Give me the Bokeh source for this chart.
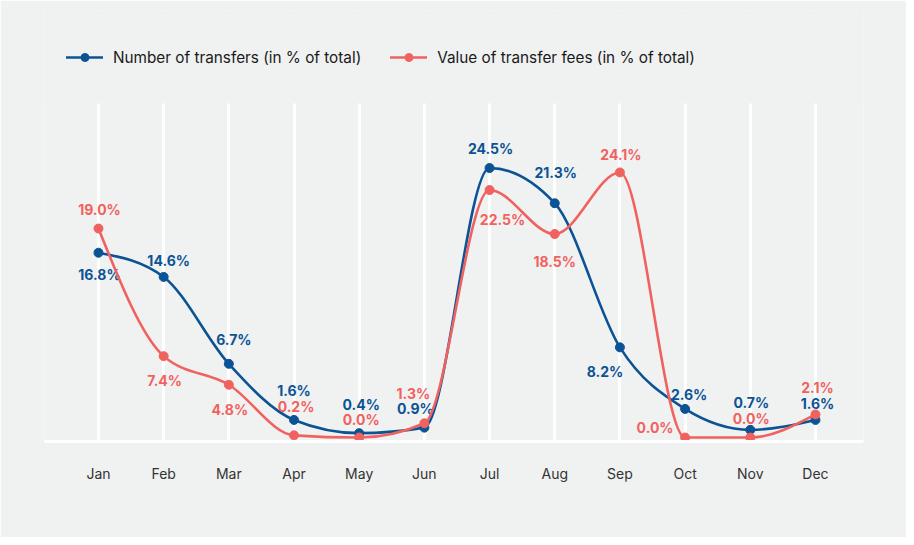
import numpy as np
from bokeh.plotting import figure
from bokeh.models import (ColumnDataSource, Range1d, FixedTicker, Legend, LegendItem, BoxAnnotation)
from bokeh.core.properties import value
from bokeh.embed import file_html
from bokeh.resources import INLINE

# ---- data ----
months = ["Jan", "Feb", "Mar", "Apr", "May", "Jun", "Jul", "Aug", "Sep", "Oct", "Nov", "Dec"]
transfers_pct = [16.8, 14.6, 6.7, 1.6, 0.4, 0.9, 24.5, 21.3, 8.2, 2.6, 0.7, 1.6]
fees_pct = [19.0, 7.4, 4.8, 0.2, 0.0, 1.3, 22.5, 18.5, 24.1, 0.0, 0.0, 2.1]

# label offsets in screen pixels (layout, not data)
transfers_dx = [1, 5, 5, 0, 2, -9, 1, 1, -15, 4, 1, 2]
transfers_dy = [22, -16, -24, -29, -29, -19, -20, -31, 24, -14, -27, -16]
fees_dx = [1, 1, 1, 2, 2, -11, 13, 0, 1, -30, 1, 2]
fees_dy = [-19, 24, 25, -29, -18, -30, 29, 27, -18, -10, -19, -27]

BLUE = "#0b5394"
RED = "#f0625f"
BG = "#f0f1f1"
FONT = "Inter"
GRID_TOP = 30.36   # where the vertical guide lines end (layout)


def monotone_bezier(xs, ys):
    """Control points of a monotone-X cubic curve (as d3.curveMonotoneX)."""
    x = np.asarray(xs, dtype=float)
    y = np.asarray(ys, dtype=float)
    n = len(x)
    h = np.diff(x)
    s = np.diff(y) / h
    t = np.zeros(n)
    for i in range(1, n - 1):
        h0, h1 = h[i - 1], h[i]
        s0, s1 = s[i - 1], s[i]
        p = (s0 * h1 + s1 * h0) / (h0 + h1)
        t[i] = (np.sign(s0) + np.sign(s1)) * min(abs(s0), abs(s1), 0.5 * abs(p))
    t[0] = (3 * (y[1] - y[0]) / h[0] - t[1]) / 2
    t[-1] = (3 * (y[-1] - y[-2]) / h[-1] - t[-2]) / 2
    d = h / 3.0
    return dict(
        x0=x[:-1], y0=y[:-1], x1=x[1:], y1=y[1:],
        cx0=x[:-1] + d, cy0=y[:-1] + d * t[:-1],
        cx1=x[1:] - d, cy1=y[1:] - d * t[1:],
    )


xi = list(range(len(months)))

p = figure(width=906, height=537, output_backend="svg", toolbar_location=None,
           x_range=Range1d(-0.828, 11.737), y_range=Range1d(-0.36, 38.82),
           y_axis_location=None,
           min_border_left=44, min_border_right=43, min_border_top=10, min_border_bottom=96)
p.background_fill_color = BG
p.border_fill_color = BG
p.outline_line_color = None

p.ygrid.visible = False
p.xgrid.grid_line_color = "white"
p.xgrid.grid_line_width = 3
# hide the guide lines above the chart area (legend zone)
p.add_layout(BoxAnnotation(bottom=GRID_TOP, fill_color=BG, fill_alpha=1.0,
                           line_color=None, level="underlay"))

p.xaxis.ticker = FixedTicker(ticks=xi)
p.xaxis.major_label_overrides = {i: m for i, m in enumerate(months)}
p.xaxis.axis_line_color = "white"
p.xaxis.axis_line_width = 3
p.xaxis.major_tick_line_color = None
p.xaxis.minor_tick_line_color = None
p.xaxis.major_label_standoff = 17
p.xaxis.major_label_text_font = FONT
p.xaxis.major_label_text_font_size = "14px"
p.xaxis.major_label_text_color = "#333333"

items = []
for name, vals, dx, dy, color in [
    ("Number of transfers (in % of total)", transfers_pct, transfers_dx, transfers_dy, BLUE),
    ("Value of transfer fees (in % of total)", fees_pct, fees_dx, fees_dy, RED),
]:
    bz = ColumnDataSource(monotone_bezier(xi, vals))
    r_line = p.bezier(x0="x0", y0="y0", x1="x1", y1="y1", cx0="cx0", cy0="cy0",
                      cx1="cx1", cy1="cy1", source=bz, line_color=color,
                      line_width=2.6, line_cap="round")
    src = ColumnDataSource(dict(x=xi, y=vals, label=[f"{v:.1f}%" for v in vals], dx=dx, dy=dy))
    r_pts = p.scatter("x", "y", source=src, size=9, color=color)
    p.text("x", "y", text="label", source=src, x_offset="dx", y_offset="dy",
           text_font=value(FONT), text_font_style="bold", text_font_size="14px",
           text_color=color, text_align="center", text_baseline="middle")
    items.append(LegendItem(label=name, renderers=[r_line, r_pts]))

legend = Legend(items=items, orientation="horizontal", location=(22, 374),
                glyph_width=37, glyph_height=20, label_standoff=10, spacing=29,
                padding=0, margin=0, background_fill_alpha=0, border_line_alpha=0,
                label_text_font=FONT, label_text_font_size="15.3px",
                label_text_color="#1a1a1a")
p.add_layout(legend)

open("out.html", "w").write(file_html(p, INLINE))
